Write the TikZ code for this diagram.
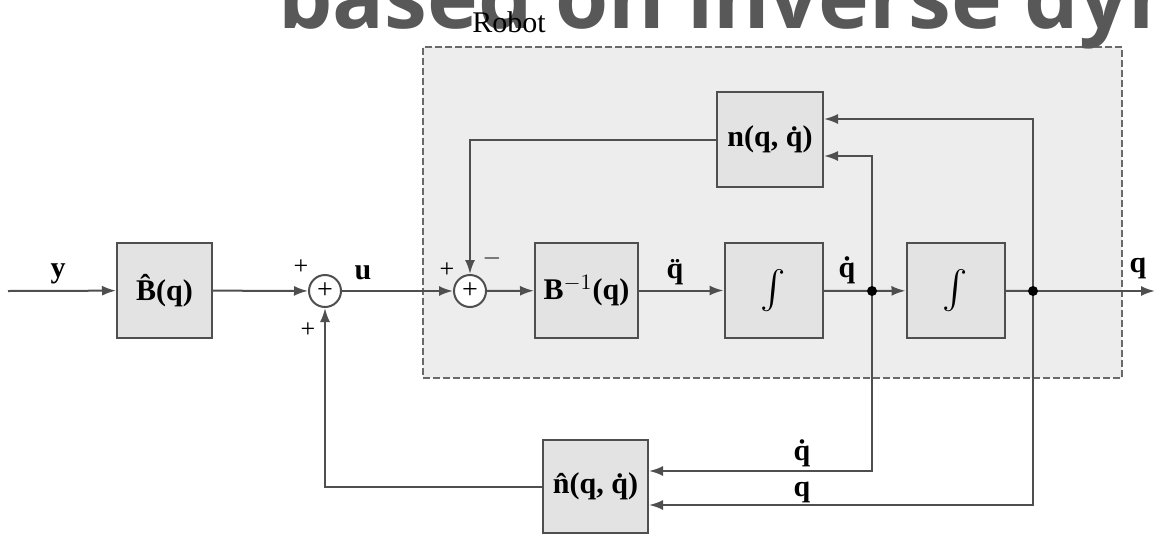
\documentclass[tikz,border=0pt]{standalone}
\usepackage{graphicx}
\usepackage{fontspec}
\setmainfont{Liberation Serif}
\newfontfamily\titlefont{Open Sans}
\usetikzlibrary{arrows.meta,positioning,calc}

\definecolor{linegray}{HTML}{4F4F4F}
\definecolor{boxgray}{HTML}{E3E3E3}
\definecolor{robotgray}{HTML}{EDEDED}
\definecolor{titlegray}{HTML}{585858}

\newcommand{\intsym}{\scalebox{1.9}{$\int$}}

\begin{document}
\begin{tikzpicture}[x=0.5pt, y=-0.5pt,
    block/.style={rectangle, draw=linegray, line width=1pt, fill=boxgray,
                  minimum height=47.5pt, inner sep=0pt,
                  font=\fontsize{15}{18}\selectfont\bfseries},
    intbox/.style={block, minimum width=49pt, font=\fontsize{15}{18}\selectfont},
    sumnode/.style={circle, draw=linegray, line width=1pt, fill=white,
                    minimum size=16pt, inner sep=0pt,
                    font=\fontsize{14}{14}\selectfont},
    junc/.style={circle, fill=black, minimum size=5pt, inner sep=0pt},
    sig/.style={font=\fontsize{15}{18}\selectfont\bfseries, anchor=base},
    sgn/.style={font=\fontsize{13}{13}\selectfont},
    arr/.style={-{Latex[length=7pt,width=5pt]}, draw=linegray, line width=1pt},
    wire/.style={draw=linegray, line width=1pt},
]
\useasboundingbox (0,0) rectangle (1155,536);
\clip (0,0) rectangle (1155,536);

% Robot frame
\node[draw=linegray!85, fill=robotgray, line width=1pt,
      dash pattern=on 3.5pt off 1.5pt, minimum width=349.5pt,
      minimum height=165.5pt, inner sep=0pt] (robot) at (772.5,212.5) {};

% slide title (cut off)
\node[anchor=base west, inner sep=0pt, text=titlegray,
      font=\titlefont\bfseries\fontsize{43}{43}\selectfont]
  (title) at (278,28) {based on inverse dynamics};
\node[font=\fontsize{15}{15}\selectfont] (robotlbl) at (509,22) {Robot};

% forward path
\coordinate (in) at (8,291);
\node[block, minimum width=47.5pt] (Bhat) at (164.5,290.5) {\^B(q)};
\node[sumnode] (sum1) at (325,291) {+};
\node[sumnode] (sum2) at (470,291) {+};
\node[block, minimum width=51.5pt] (Binv) at (586.5,290.5) {B$^{-1}$(q)};
\node[intbox] (int1) at (773.5,290.5) {\intsym};
\coordinate (dot1) at (872,291);
\node[intbox] (int2) at (955.5,290.5) {\intsym};
\coordinate (dot2) at (1033,291);
\coordinate (out) at (1155,291);

% feedback blocks
\node[block, minimum width=53pt] (nbox) at (770,139.5) {n(q, \.q)};
\node[block, minimum width=52.5pt, minimum height=46.5pt] (nhat) at (595.5,486.5) {\^n(q, \.q)};

\draw[arr] (in) -- (Bhat);
\draw[arr] (Bhat) -- (sum1);
\draw[arr] (sum1) -- (sum2);
\draw[arr] (sum2) -- (Binv);
\draw[arr] (Binv) -- (int1);
\draw[wire] (int1) -- (dot1);
\draw[arr] (dot1) -- (int2);
\draw[wire] (int2) -- (dot2);
\draw[arr] (dot2) -- (out);

\draw[arr] (dot2) |- ([yshift=10.25pt]nbox.east);
\draw[arr] (dot1) |- ([yshift=-8.25pt]nbox.east);
\draw[arr] (dot1) |- ([yshift=7.75pt]nhat.east);
\draw[arr] (dot2) |- ([yshift=-9.25pt]nhat.east);
\draw[arr] (nbox.west) -| (sum2.north);
\draw[arr] (nhat.west) -| (sum1.south);

\node[junc] at (dot1) {};
\node[junc] at (dot2) {};

% signal labels
\node[sig] (ylbl) at (58,277) {y};
\node[sig] (ulbl) at (363,279) {u};
\node[sig] (qddlbl) at (675,278) {\"q};
\node[sig] (qdlbl) at (847,277) {\.q};
\node[sig] (qlbl) at (1138,272) {q};
\node[sig] (qdlow) at (802,460) {\.q};
\node[sig] (qlow) at (802,496) {q};

% signs
\node[sgn] (s1a) at (301,267) {+};
\node[sgn] (s1b) at (308,330) {+};
\node[sgn] (s2a) at (447,270) {+};
\node[sgn] (s2b) at (492,258) {$-$};

\end{tikzpicture}
\end{document}
